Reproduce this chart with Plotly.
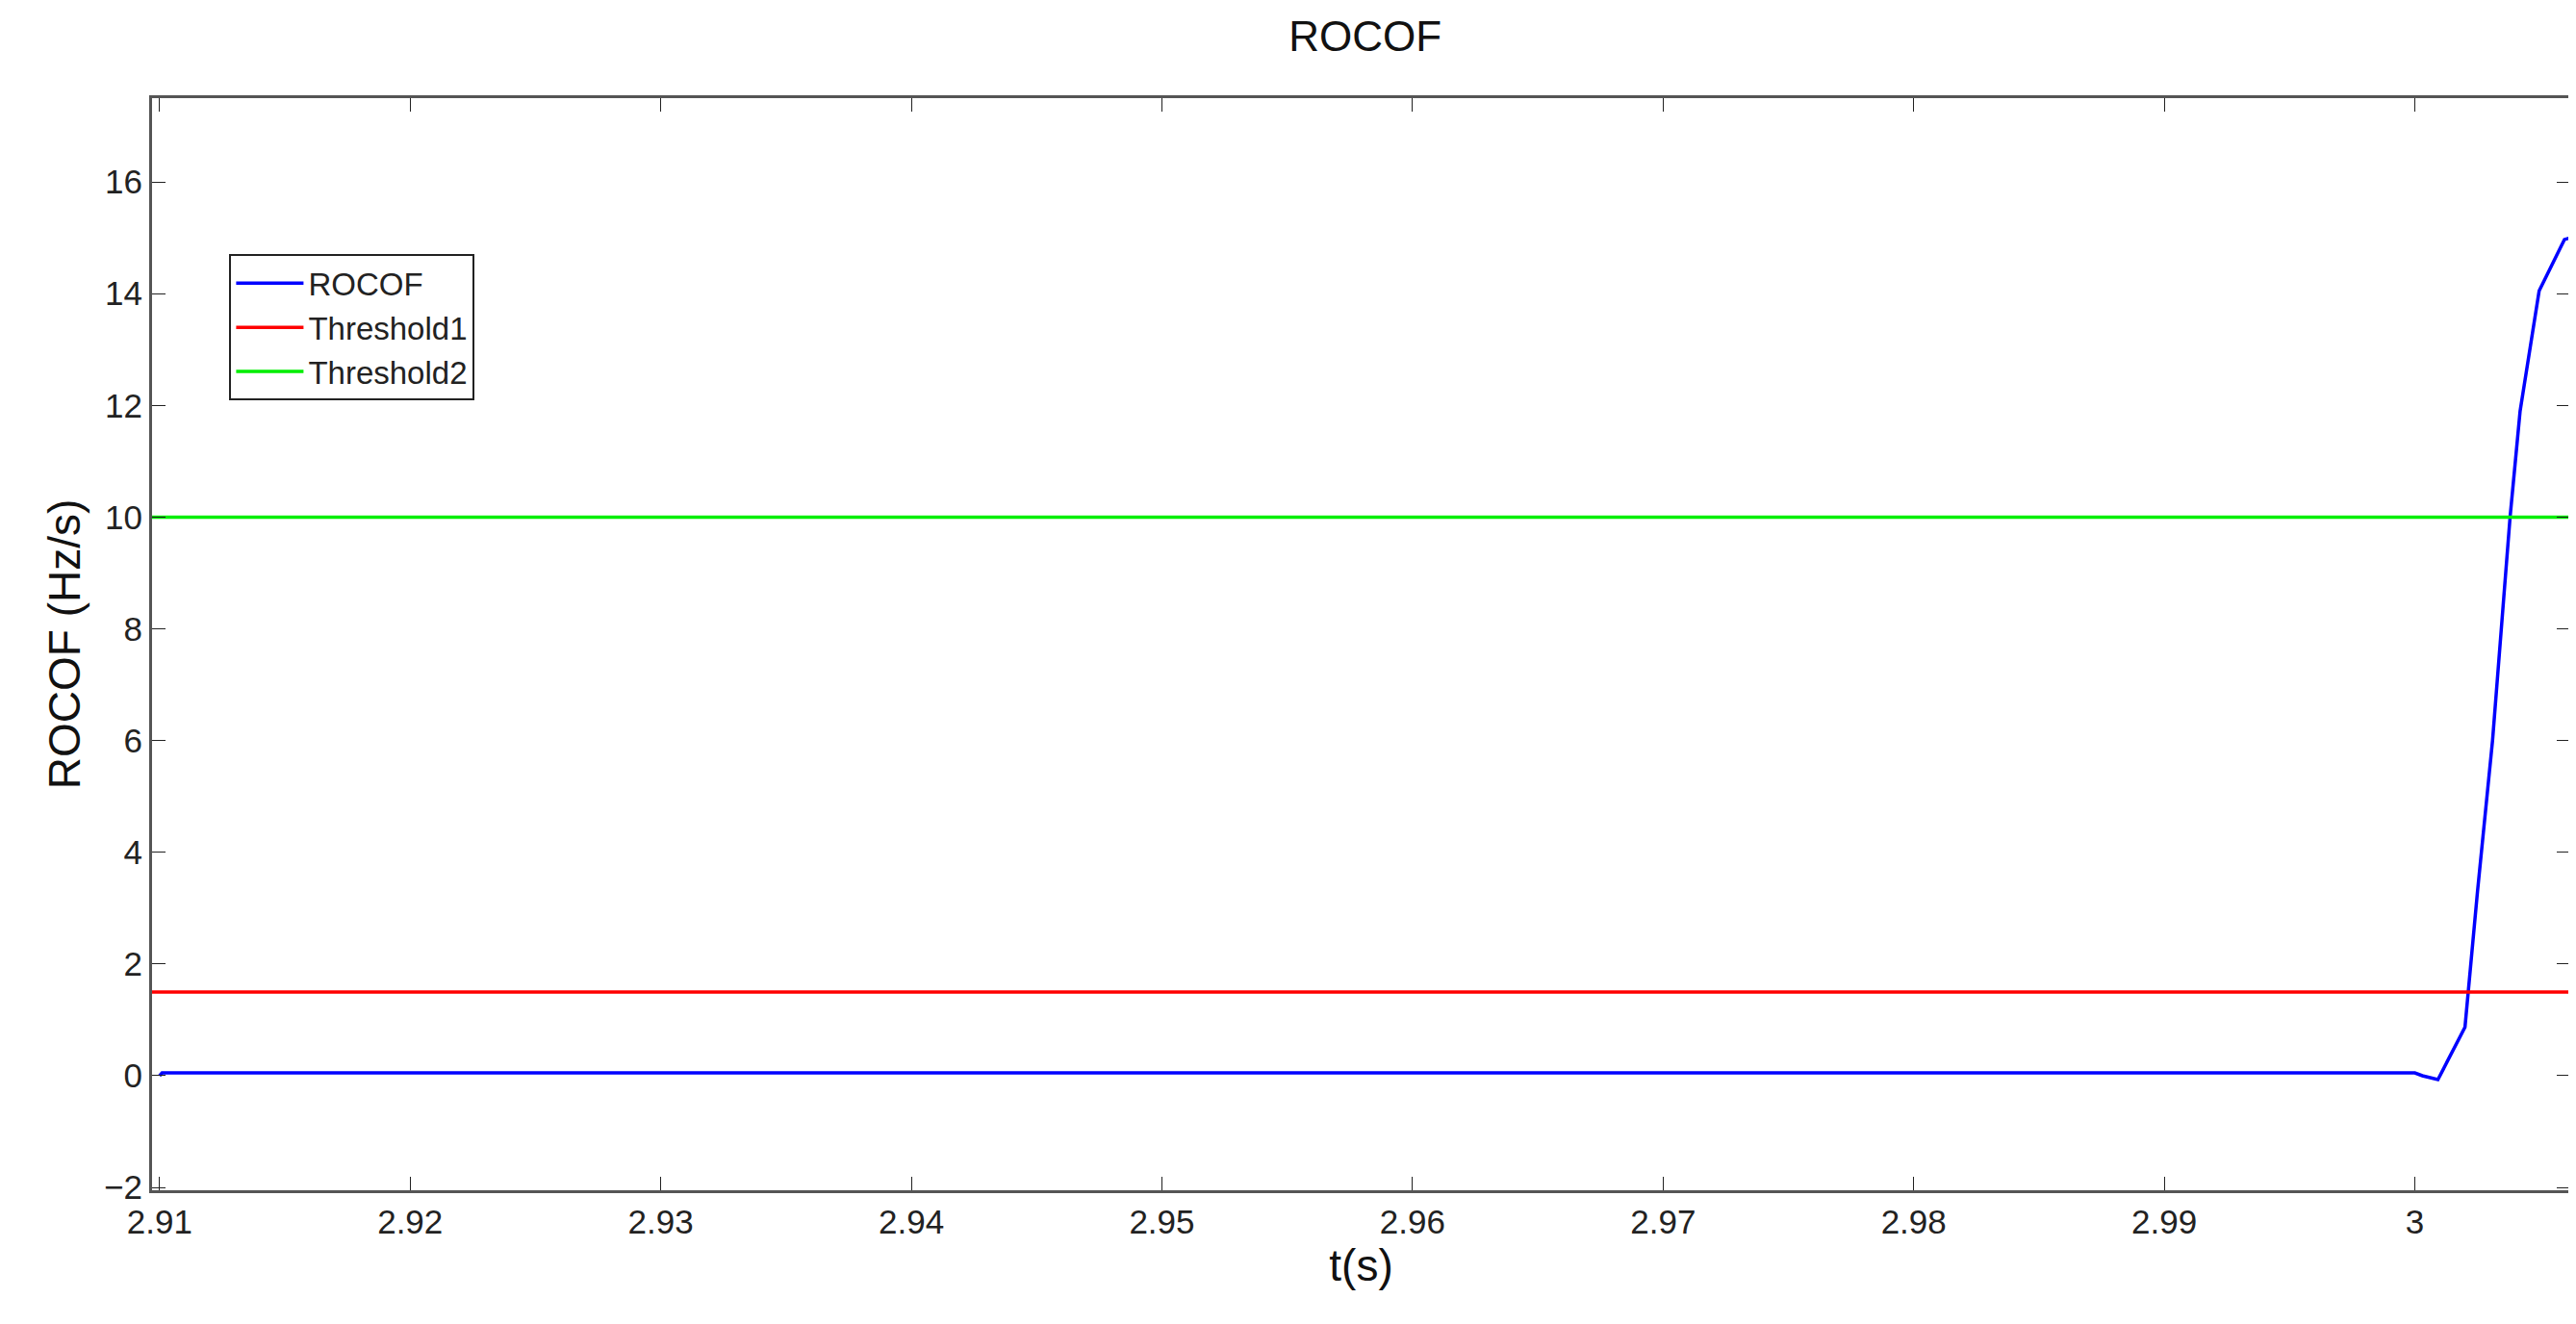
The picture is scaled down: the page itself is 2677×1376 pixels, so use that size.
import plotly.graph_objects as go

# ROCOF trace (t in s, value in Hz/s)
t = [2.9100, 2.9101, 2.9200, 2.9500, 2.9800, 3.0000, 3.0003, 3.00092, 3.0020,
     3.0025, 3.0031, 3.0038, 3.0042, 3.00496, 3.00597, 3.0062]
rocof = [0.0, 0.05, 0.05, 0.05, 0.05, 0.05, 0.0, -0.07, 0.87,
         3.3, 6.0, 10.0, 11.9, 14.05, 14.97, 15.0]
t_range = [2.9097, 3.0062]
threshold1 = 1.5
threshold2 = 10.0

font = "Liberation Sans, Arial"
fig = go.Figure()
fig.add_trace(go.Scatter(x=t, y=rocof, mode="lines", name="ROCOF",
                         line=dict(color="#0000ff", width=3.5)))
fig.add_trace(go.Scatter(x=t_range, y=[threshold1] * 2, mode="lines", name="Threshold1",
                         line=dict(color="#ff0000", width=3.5)))
fig.add_trace(go.Scatter(x=t_range, y=[threshold2] * 2, mode="lines", name="Threshold2",
                         line=dict(color="#00ee00", width=3.5)))

axis_style = dict(showgrid=False, zeroline=False, showline=True, linecolor="#555555",
                  linewidth=3, mirror="ticks", ticks="inside", ticklen=14,
                  tickcolor="#222222", tickfont=dict(size=35, family=font, color="#222222"))
fig.update_layout(
    width=2677, height=1376, plot_bgcolor="white", paper_bgcolor="white",
    margin=dict(l=150, r=14, t=94, b=147),
    title=dict(text="ROCOF", x=0.527, y=0.99, yanchor="top",
               font=dict(size=44, family=font, color="#111111")),
    xaxis=dict(range=t_range, tickvals=[2.91, 2.92, 2.93, 2.94, 2.95, 2.96, 2.97, 2.98, 2.99, 3.0],
               ticktext=["2.91", "2.92", "2.93", "2.94", "2.95", "2.96", "2.97", "2.98", "2.99", "3"],
               title=dict(text="t(s)", font=dict(size=46, family=font, color="#111111"), standoff=6),
               **axis_style),
    yaxis=dict(range=[-2.05, 17.5], tickvals=list(range(-2, 17, 2)),
               title=dict(text="ROCOF (Hz/s)", font=dict(size=46, family=font, color="#111111"), standoff=10),
               **axis_style),
    legend=dict(x=0.032, y=0.857, xanchor="left", yanchor="top", bordercolor="#222222",
                borderwidth=2, bgcolor="white", font=dict(size=33, family=font, color="#222222"),
                itemwidth=70, tracegroupgap=0),
)
fig.write_html("out.html")
